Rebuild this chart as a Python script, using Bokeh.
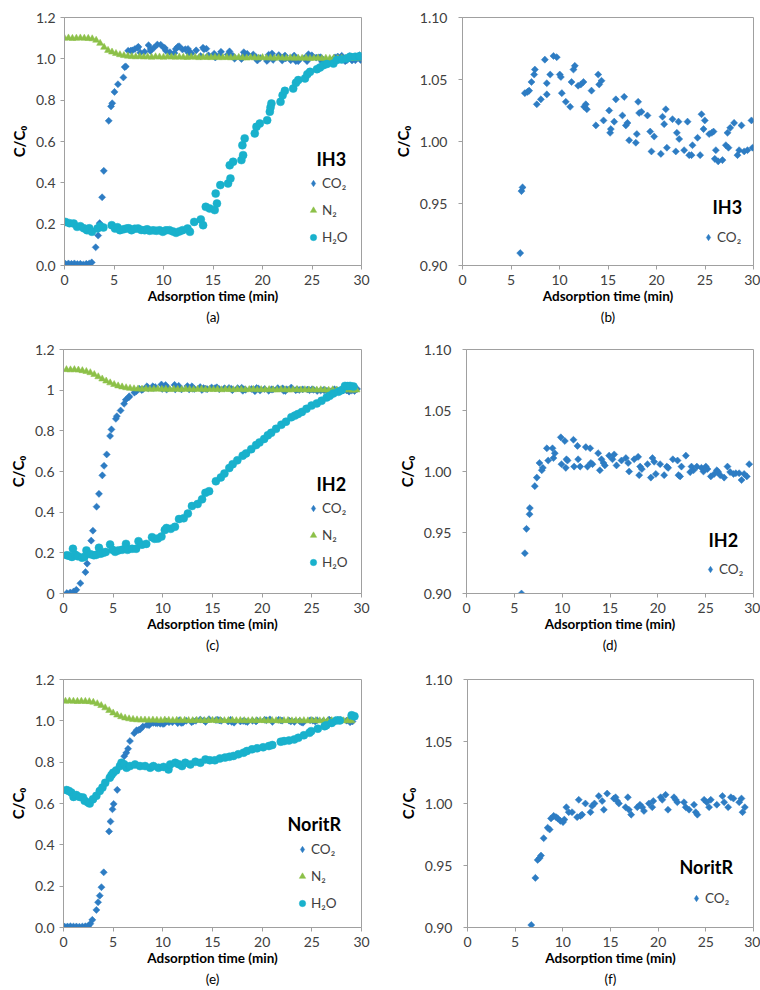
import numpy as np
from bokeh.plotting import figure
from bokeh.models import Range1d, Legend, LegendItem, Label, Title, FixedTicker, NumeralTickFormatter
from bokeh.layouts import column, row
from bokeh.embed import file_html
from bokeh.resources import INLINE

# ---------------- data ----------------
X_TICKS = [0, 5, 10, 15, 20, 25, 30]
Y_TICKS_FULL = [0, 0.2, 0.4, 0.6, 0.8, 1.0, 1.2]
Y_TICKS_ZOOM = [0.90, 0.95, 1.00, 1.05, 1.10]
SAMPLES = ["IH3", "IH2", "NoritR"]
LETTERS = ["(a)", "(b)", "(c)", "(d)", "(e)", "(f)"]

# ---- IH3 ----
IH3_CO2_T = [0.1, 0.4, 0.7, 1.0, 1.3, 1.6, 1.9, 2.2, 2.5, 2.75,
             3.15, 3.4, 3.55, 3.8, 3.97, 4.47, 4.7, 4.82, 5.05, 5.4,
             5.95, 6.08, 6.19, 6.43, 6.7, 6.87, 7.11, 7.39, 7.46, 7.66,
             8.08, 8.49, 8.69, 8.69, 9.04, 9.38, 9.72, 10.03, 10.14, 10.24,
             10.65, 11.1, 11.24, 11.44, 11.58, 11.92, 12.2, 12.47, 12.54, 12.71,
             12.82, 13.3, 13.75, 13.99, 14.09, 14.33, 14.54, 15.12, 15.22, 15.29,
             15.64, 15.81, 16.49, 16.67, 16.84, 17.01, 17.18, 17.87, 17.97, 18.11,
             18.21, 18.45, 19.07, 19.35, 19.48, 19.76, 20.45, 20.62, 20.79, 20.96,
             21.07, 21.65, 21.99, 22.1, 22.27, 22.34, 22.85, 23.2, 23.37, 23.61,
             23.71, 24.23, 24.5, 24.64, 24.85, 24.98, 25.43, 25.7, 25.88, 26.01,
             26.12, 26.36, 26.8, 27.15, 27.32, 27.42, 27.6, 28.0, 28.35, 28.52,
             28.76, 29.04, 29.38, 29.79, 29.9]
IH3_CO2_Y = [0.008, 0.010, 0.008, 0.010, 0.007, 0.008, 0.005, 0.008, 0.010, 0.015,
             0.088, 0.145, 0.205, 0.330, 0.458, 0.700, 0.770, 0.785, 0.840, 0.877,
             0.910, 0.960, 0.963, 1.039, 1.040, 1.041, 1.048, 1.054, 1.058, 1.030,
             1.034, 1.066, 1.047, 1.038, 1.054, 1.069, 1.068, 1.054, 1.052, 1.039,
             1.032, 1.028, 1.048, 1.058, 1.061, 1.045, 1.046, 1.048, 1.028, 1.030,
             1.026, 1.041, 1.013, 1.054, 1.046, 1.049, 1.017, 1.025, 1.007, 1.010,
             1.016, 1.034, 1.021, 1.036, 1.013, 1.015, 1.001, 0.999, 1.006, 1.032,
             1.023, 1.024, 1.021, 1.008, 0.992, 1.004, 0.990, 1.020, 1.014, 1.026,
             0.995, 1.018, 0.992, 1.007, 1.016, 1.002, 0.993, 1.016, 0.989, 0.989,
             0.997, 1.003, 0.989, 1.022, 1.010, 1.017, 1.006, 1.007, 1.008, 0.986,
             0.993, 0.984, 0.985, 0.997, 1.007, 0.995, 1.011, 1.015, 0.989, 0.993,
             1.013, 0.992, 0.993, 1.017, 0.995]
IH3_N2_T = [0.0, 0.4, 0.8, 1.2, 1.6, 2.0, 2.4, 2.8, 3.2, 3.6,
            4.0, 4.4, 4.8, 5.2, 5.6, 6.0, 6.4, 6.8, 7.2, 7.6,
            8.0, 8.4, 8.8, 9.2, 9.6, 10.0, 10.4, 10.8, 11.2, 11.6,
            12.0, 12.4, 12.8, 13.2, 13.6, 14.0, 14.4, 14.8, 15.2, 15.6,
            16.0, 16.4, 16.8, 17.2, 17.6, 18.0, 18.4, 18.8, 19.2, 19.6,
            20.0, 20.4, 20.8, 21.2, 21.6, 22.0, 22.4, 22.8, 23.2, 23.6,
            24.0, 24.4, 24.8, 25.2, 25.6, 26.0, 26.4, 26.8, 27.2, 27.6,
            28.0, 28.4, 28.8, 29.2, 29.6]
IH3_N2_Y = [1.100, 1.101, 1.099, 1.100, 1.101, 1.100, 1.099, 1.097, 1.090, 1.075,
            1.056, 1.041, 1.033, 1.026, 1.020, 1.016, 1.013, 1.011, 1.010, 1.011,
            1.009, 1.010, 1.008, 1.010, 1.009, 1.008, 1.010, 1.009, 1.008, 1.009,
            1.008, 1.007, 1.009, 1.008, 1.006, 1.008, 1.007, 1.006, 1.008, 1.006,
            1.006, 1.007, 1.005, 1.006, 1.007, 1.005, 1.004, 1.006, 1.005, 1.004,
            1.006, 1.004, 1.005, 1.003, 1.005, 1.004, 1.003, 1.005, 1.003, 1.004,
            1.003, 1.004, 1.002, 1.003, 1.004, 1.002, 1.003, 1.002, 1.003, 1.002,
            1.003, 1.002, 1.003, 1.002, 1.003]
IH3_H2O_T = [0.1, 0.5, 0.93, 1.27, 1.6, 1.95, 2.27, 2.5, 2.77, 3.33,
             3.6, 3.93, 4.77, 5.1, 5.35, 5.6, 5.95, 6.27, 6.5, 6.77,
             7.1, 7.43, 7.75, 8.1, 8.35, 8.6, 8.95, 9.27, 9.6, 9.93,
             10.25, 10.6, 10.95, 11.27, 11.6, 11.93, 12.43, 12.67, 13.1, 13.77,
             14.0, 14.27, 14.66, 15.17, 15.27, 15.4, 15.74, 16.52, 16.69, 16.76,
             17.03, 17.87, 17.97, 18.04, 18.2, 19.22, 19.39, 19.73, 20.47, 20.74,
             20.81, 20.9, 21.82, 22.03, 22.26, 23.1, 23.38, 23.61, 24.29, 24.53,
             24.8, 25.5, 25.81, 26.15, 26.5, 27.16, 27.5, 28.0, 28.51, 28.85,
             29.36, 29.8]
IH3_H2O_Y = [0.211, 0.205, 0.203, 0.187, 0.190, 0.180, 0.171, 0.180, 0.163, 0.179,
             0.190, 0.184, 0.195, 0.179, 0.185, 0.171, 0.175, 0.179, 0.180, 0.171,
             0.178, 0.179, 0.172, 0.171, 0.175, 0.168, 0.170, 0.168, 0.170, 0.163,
             0.170, 0.171, 0.165, 0.158, 0.165, 0.171, 0.179, 0.163, 0.211, 0.223,
             0.195, 0.284, 0.276, 0.268, 0.348, 0.300, 0.389, 0.397, 0.485, 0.421,
             0.502, 0.510, 0.582, 0.534, 0.615, 0.639, 0.671, 0.687, 0.703, 0.744,
             0.765, 0.784, 0.792, 0.824, 0.845, 0.856, 0.884, 0.897, 0.905, 0.926,
             0.937, 0.950, 0.958, 0.969, 0.975, 0.977, 0.994, 0.997, 1.002, 1.010,
             1.010, 1.013]

# ---- IH2 ----
IH2_CO2_T = [0.34, 0.68, 1.02, 1.29, 1.7, 2.21, 2.38, 2.79, 2.96, 3.33,
             3.57, 3.91, 4.08, 4.35, 4.69, 4.83, 5.27, 5.37,
             5.75, 6.10, 6.27, 6.59, 6.62, 7.14, 7.35, 7.63, 7.87, 7.98,
             8.4, 8.54, 8.99, 9.09, 9.23, 9.86, 9.93, 10.28, 10.38, 10.45,
             10.56, 11.18, 11.25, 11.6, 11.67, 11.88, 12.47, 12.65, 12.93, 13.0,
             13.17, 13.76, 13.94, 14.11, 14.32, 14.46, 14.91, 15.26, 15.44, 15.68,
             16.2, 16.66, 16.9, 17.0, 17.53, 17.94, 18.05, 18.15, 18.33, 18.92,
             19.27, 19.44, 19.62, 19.79, 20.24, 20.66, 20.94, 21.08, 21.57, 22.06,
             22.16, 22.33, 22.47, 22.93, 23.38, 23.52, 23.73, 24.08, 24.56, 24.77,
             25.02, 25.19, 25.54, 25.89, 26.17, 26.31, 26.52, 26.93, 27.28, 27.56,
             27.91, 28.15, 28.5, 28.75, 29.02, 29.3, 29.55]
IH2_CO2_Y = [0.002, 0.005, 0.010, 0.018, 0.050, 0.105, 0.147, 0.260, 0.309, 0.427,
             0.490, 0.581, 0.628, 0.684, 0.775, 0.807, 0.859, 0.872,
             0.900, 0.933, 0.953, 0.965, 0.970, 0.988, 0.995, 1.007, 1.001, 1.003,
             1.019, 1.009, 1.019, 1.011, 1.015, 1.028, 1.006, 1.025, 1.003, 1.010,
             1.009, 1.026, 1.004, 1.021, 1.010, 1.004, 1.020, 1.004, 1.019, 1.007,
             1.006, 1.015, 1.001, 1.010, 1.007, 1.005, 1.013, 1.010, 1.014, 1.005,
             1.009, 1.011, 1.007, 1.000, 1.010, 1.012, 0.997, 1.004, 1.002, 1.006,
             0.995, 1.011, 1.008, 0.998, 1.006, 0.997, 1.004, 1.003, 1.010, 1.009,
             0.997, 0.996, 1.004, 1.013, 0.9995, 1.004, 1.001, 1.004, 1.003, 1.000,
             1.004, 1.002, 0.996, 0.998, 1.001, 0.9995, 0.997, 0.995, 1.004, 0.9995,
             0.998, 0.9986, 0.9986, 0.993, 0.998, 0.996, 1.006]
IH2_N2_T = [0.3, 0.7, 1.1, 1.5, 1.9, 2.3, 2.7, 3.1, 3.5, 3.9,
            4.3, 4.7, 5.1, 5.5, 5.9, 6.3, 6.7, 7.1, 7.5, 7.9,
            8.3, 8.7, 9.1, 9.5, 9.9, 10.3, 10.7, 11.1, 11.5, 11.9,
            12.3, 12.7, 13.1, 13.5, 13.9, 14.3, 14.7, 15.1, 15.5, 15.9,
            16.3, 16.7, 17.1, 17.5, 17.9, 18.3, 18.7, 19.1, 19.5, 19.9,
            20.3, 20.7, 21.1, 21.5, 21.9, 22.3, 22.7, 23.1, 23.5, 23.9,
            24.3, 24.7, 25.1, 25.5, 25.9, 26.3, 26.7, 27.1, 27.5, 27.9,
            28.3, 28.7, 29.1, 29.5]
IH2_N2_Y = [1.101, 1.100, 1.101, 1.099, 1.096, 1.092, 1.086, 1.077, 1.066, 1.055,
            1.045, 1.036, 1.028, 1.021, 1.016, 1.012, 1.009, 1.007, 1.006, 1.005,
            1.006, 1.004, 1.005, 1.006, 1.004, 1.005, 1.003, 1.005, 1.004, 1.003,
            1.005, 1.004, 1.003, 1.004, 1.005, 1.003, 1.004, 1.003, 1.004, 1.002,
            1.004, 1.003, 1.002, 1.004, 1.003, 1.002, 1.003, 1.004, 1.002, 1.003,
            1.002, 1.003, 1.002, 1.001, 1.003, 1.002, 1.001, 1.002, 1.003, 1.001,
            1.002, 1.001, 1.002, 1.001, 1.002, 1.001, 1.000, 1.002, 1.001, 1.000,
            1.001, 1.002, 1.000, 1.001]
IH2_H2O_T = [0.34, 0.6, 0.85, 0.95, 1.2, 1.43, 1.87, 2.1, 2.31, 2.72,
             3.06, 3.3, 3.57, 3.74, 4.0, 4.25, 4.69, 4.93, 5.2, 5.51,
             5.9, 6.29, 6.46, 6.9, 7.31, 7.55, 7.9, 8.33, 8.91, 9.18,
             9.5, 9.86, 10.2, 10.37, 10.8, 11.22, 11.63, 12.1, 12.52, 12.93,
             13.5, 13.95, 14.29, 14.66, 15.34, 15.84, 16.2, 16.69, 17.03, 17.5,
             18.04, 18.38, 18.9, 19.39, 19.73, 20.2, 20.57, 20.91, 21.4, 21.93,
             22.4, 22.94, 23.3, 23.61, 24.0, 24.46, 24.97, 25.5, 25.98, 26.49,
             26.8, 27.16, 27.67, 28.0, 28.34, 28.6, 28.85, 29.19]
IH2_H2O_Y = [0.188, 0.185, 0.180, 0.220, 0.190, 0.183, 0.176, 0.180, 0.212, 0.193,
             0.188, 0.190, 0.225, 0.196, 0.200, 0.204, 0.241, 0.215, 0.205, 0.212,
             0.215, 0.244, 0.215, 0.220, 0.220, 0.257, 0.240, 0.244, 0.277, 0.269,
             0.270, 0.280, 0.312, 0.322, 0.318, 0.328, 0.366, 0.370, 0.393, 0.430,
             0.440, 0.463, 0.495, 0.503, 0.552, 0.571, 0.590, 0.617, 0.636, 0.655,
             0.678, 0.689, 0.710, 0.730, 0.743, 0.760, 0.778, 0.790, 0.810, 0.830,
             0.845, 0.867, 0.875, 0.883, 0.893, 0.908, 0.924, 0.935, 0.948, 0.964,
             0.972, 0.984, 0.992, 1.000, 1.021, 1.020, 1.021, 1.018]

# ---- NoritR ----
NOR_CO2_T = [0.1, 0.4, 0.7, 1.0, 1.3, 1.6, 1.9, 2.2, 2.5, 2.7,
             2.9, 3.31, 3.48, 3.65, 3.82, 4.05, 4.59, 4.73, 4.93, 5.05,
             5.41, 6.11, 6.32, 6.5,
             6.69, 7.12, 7.36, 7.57, 7.71, 7.99, 8.41, 8.62, 8.76, 9.04,
             9.29, 9.46, 9.74, 10.02, 10.16, 10.37, 10.62, 10.97, 11.5, 11.67,
             11.85, 12.02, 12.37, 12.9, 13.07, 13.32, 13.77, 14.13, 14.3, 14.65,
             15.35, 15.53, 15.7, 15.88, 16.58, 16.82, 16.93, 17.17, 17.81, 18.09,
             18.33, 18.51, 19.03, 19.38, 19.49, 20.26, 20.43, 20.78, 21.03, 21.66,
             21.84, 22.01, 22.71, 22.89, 23.24, 23.76, 23.94, 24.11, 24.82, 25.1,
             25.34, 25.52, 26.15, 26.74, 26.92, 27.34, 27.63, 27.9, 28.5, 28.74,
             28.85, 29.09]
NOR_CO2_Y = [0.005, 0.005, 0.006, 0.005, 0.005, 0.004, 0.005, 0.006, 0.008, 0.018,
             0.037, 0.085, 0.122, 0.154, 0.195, 0.267, 0.465, 0.513, 0.572, 0.598,
             0.666, 0.829, 0.845, 0.865,
             0.902, 0.940, 0.9545, 0.956, 0.958, 0.972, 0.9805, 0.979, 0.988, 0.990,
             0.989, 0.988, 0.986, 0.985, 0.987, 0.997, 0.993, 0.993, 0.989, 1.003,
             0.990, 0.991, 1.000, 0.993, 0.998, 1.000, 1.006, 1.002, 0.995, 1.008,
             1.004, 1.005, 1.002, 1.000, 0.997, 1.005, 0.995, 0.991, 0.997, 0.999,
             0.997, 0.994, 1.000, 0.997, 1.002, 1.005, 1.003, 1.007, 0.995, 1.005,
             1.003, 1.001, 1.001, 0.997, 0.995, 0.999, 0.993, 0.991, 1.003, 1.001,
             0.997, 1.003, 0.999, 1.006, 1.001, 0.997, 1.005, 1.004, 1.001, 1.004,
             0.993, 0.997]
NOR_N2_T = [0.2, 0.6, 1.0, 1.4, 1.8, 2.2, 2.6, 3.0, 3.4, 3.8,
            4.2, 4.6, 5.0, 5.4, 5.8, 6.2, 6.6, 7.0, 7.4, 7.8,
            8.2, 8.6, 9.0, 9.4, 9.8, 10.2, 10.6, 11.0, 11.4, 11.8,
            12.2, 12.6, 13.0, 13.4, 13.8, 14.2, 14.6, 15.0, 15.4, 15.8,
            16.2, 16.6, 17.0, 17.4, 17.8, 18.2, 18.6, 19.0, 19.4, 19.8,
            20.2, 20.6, 21.0, 21.4, 21.8, 22.2, 22.6, 23.0, 23.4, 23.8,
            24.2, 24.6, 25.0, 25.4, 25.8, 26.2, 26.6, 27.0, 27.4, 27.8,
            28.2, 28.6, 29.0]
NOR_N2_Y = [1.095, 1.096, 1.095, 1.094, 1.095, 1.094, 1.093, 1.090, 1.083, 1.074,
            1.063, 1.050, 1.038, 1.028, 1.020, 1.014, 1.010, 1.007, 1.005, 1.004,
            1.004, 1.003, 1.004, 1.003, 1.002, 1.004, 1.003, 1.002, 1.003, 1.002,
            1.003, 1.002, 1.001, 1.003, 1.002, 1.001, 1.002, 1.003, 1.001, 1.002,
            1.001, 1.002, 1.003, 1.001, 1.002, 1.001, 1.000, 1.002, 1.001, 1.002,
            1.001, 1.000, 1.002, 1.001, 1.000, 1.001, 1.002, 1.000, 1.001, 1.000,
            1.001, 1.000, 1.002, 1.001, 1.000, 1.001, 1.000, 1.001, 1.000, 1.001,
            1.000, 1.001, 1.000]
NOR_H2O_T = [0.3, 0.54, 0.78, 1.01, 1.28, 1.62, 1.96, 2.13, 2.47, 2.64,
             2.97, 3.31, 3.65, 3.92, 4.2, 4.66, 4.83, 5.0, 5.3, 5.68,
             5.84, 6.1, 6.35, 6.69, 7.2, 7.7, 8.21, 8.72, 9.05, 9.56,
             10.07, 10.57, 10.74, 11.25, 11.6, 11.93, 12.26, 12.77, 13.28, 13.78,
             14.29, 14.73, 15.24, 15.75, 16.26, 16.7, 17.11, 17.6, 18.13, 18.47,
             18.98, 19.49, 20.1, 20.68, 21.02, 21.87, 22.21, 22.7, 23.23, 23.64,
             24.2, 24.76, 24.93, 25.6, 26.29, 26.46, 27.0, 27.48, 27.82, 29.01,
             29.29]
NOR_H2O_Y = [0.665, 0.661, 0.653, 0.632, 0.641, 0.632, 0.629, 0.613, 0.605, 0.600,
             0.621, 0.637, 0.661, 0.677, 0.700, 0.725, 0.738, 0.749, 0.760, 0.781,
             0.797, 0.790, 0.773, 0.781, 0.789, 0.781, 0.781, 0.773, 0.781, 0.773,
             0.777, 0.765, 0.789, 0.797, 0.790, 0.781, 0.797, 0.789, 0.802, 0.797,
             0.813, 0.809, 0.809, 0.818, 0.822, 0.826, 0.830, 0.838, 0.846, 0.854,
             0.862, 0.867, 0.872, 0.878, 0.883, 0.899, 0.902, 0.905, 0.910, 0.918,
             0.930, 0.942, 0.950, 0.962, 0.974, 0.979, 0.990, 1.002, 1.002, 1.027,
             1.022]

# ---------------- styling ----------------
FONT = "Lato"
C_CO2 = "#2d7cc3"
C_N2 = "#8cc048"
C_H2O = "#19b1cc"
AXC = "#a0a0a0"
TXT = "#404040"


def make_panel(borders, yrange, yticks, yfmt, ylab_standoff, ytick_standoff,
               letter, letter_offset, sample, sample_xy, legend_xy, series):
    left, right, top, bottom = borders
    p = figure(width=380, height=330, output_backend="svg", toolbar_location=None,
               x_range=Range1d(0, 30), y_range=Range1d(*yrange),
               min_border_left=left, min_border_right=right,
               min_border_top=top, min_border_bottom=bottom,
               background_fill_color="white", border_fill_color="white")
    p.xgrid.visible = False
    p.ygrid.visible = False
    p.outline_line_color = AXC
    p.outline_line_width = 1

    p.xaxis.ticker = FixedTicker(ticks=X_TICKS)
    p.yaxis.ticker = FixedTicker(ticks=yticks)
    p.yaxis.formatter = NumeralTickFormatter(format=yfmt)
    for ax in (p.xaxis, p.yaxis):
        ax.axis_line_color = AXC
        ax.major_tick_line_color = AXC
        ax.major_tick_out = 4
        ax.major_tick_in = 0
        ax.minor_tick_line_color = None
        ax.major_label_text_font = FONT
        ax.major_label_text_font_size = "14px"
        ax.major_label_text_color = TXT
        ax.axis_label_text_font = FONT
        ax.axis_label_text_font_style = "bold"
        ax.axis_label_text_color = "black"
    p.xaxis.major_label_standoff = 5
    p.yaxis.major_label_standoff = ytick_standoff
    p.xaxis.axis_label = "Adsorption time (min)"
    p.xaxis.axis_label_text_font_size = "13.5px"
    p.xaxis.axis_label_standoff = 0
    p.yaxis.axis_label = "C/C\u2080"
    p.yaxis.axis_label_text_font_size = "15px"
    p.yaxis.axis_label_standoff = ylab_standoff

    items = []
    for name, t, y, kind in series:
        if kind == "co2":
            p.scatter(t, y, marker="square", size=5, angle=np.pi / 4,
                      fill_color=C_CO2, line_color=C_CO2, line_width=0.5)
            # hidden twin of the same series, used only for the legend key (diamond symbol)
            r = p.scatter(t, y, marker="diamond", size=8, visible=False,
                          fill_color=C_CO2, line_color=C_CO2, line_width=0.5)
        elif kind == "n2":
            r = p.scatter(t, y, marker="triangle", size=7,
                          fill_color=C_N2, line_color=C_N2, line_width=0.5)
        else:
            r = p.scatter(t, y, marker="circle", size=8,
                          fill_color=C_H2O, line_color=C_H2O, line_width=0.5)
        items.append(LegendItem(label=name, renderers=[r]))

    legend = Legend(items=items, location=legend_xy,
                    glyph_width=16, glyph_height=18, label_height=18,
                    label_standoff=1, spacing=9, padding=0, margin=0,
                    border_line_alpha=0, background_fill_alpha=0,
                    inactive_fill_alpha=0,
                    label_text_font=FONT, label_text_font_size="13.5px",
                    label_text_color=TXT)
    p.add_layout(legend)

    p.add_layout(Label(x=sample_xy[0], y=sample_xy[1], x_units="screen", y_units="screen",
                       text=sample, text_font=FONT, text_font_size="18px",
                       text_font_style="bold", text_color="black",
                       text_baseline="middle", text_align="left"))

    p.add_layout(Title(text=letter, align="center", offset=letter_offset, standoff=0,
                       text_font=FONT, text_font_size="13.5px", text_font_style="normal",
                       text_color="black"), "below")
    return p


pa = make_panel((64, 19, 17, 65), (0, 1.2), Y_TICKS_FULL, "0.0", 5, 5,
                LETTERS[0], -12, SAMPLES[0], (252, 107), (241, 19),
                [("CO\u2082", IH3_CO2_T, IH3_CO2_Y, "co2"),
                 ("N\u2082", IH3_N2_T, IH3_N2_Y, "n2"),
                 ("H\u2082O", IH3_H2O_T, IH3_H2O_Y, "h2o")])
pb = make_panel((82, 7, 17, 65), (0.9, 1.1), Y_TICKS_ZOOM, "0.00", 5, 11,
                LETTERS[1], -10, SAMPLES[0], (250, 59), (238, 19),
                [("CO\u2082", IH3_CO2_T, IH3_CO2_Y, "co2")])
pc = make_panel((63, 19, 19, 63), (0, 1.2), Y_TICKS_FULL, "0.[0]", 5, 5,
                LETTERS[2], -10, SAMPLES[1], (253, 110), (242, 22),
                [("CO\u2082", IH2_CO2_T, IH2_CO2_Y, "co2"),
                 ("N\u2082", IH2_N2_T, IH2_N2_Y, "n2"),
                 ("H\u2082O", IH2_H2O_T, IH2_H2O_Y, "h2o")])
pd_ = make_panel((86, 7, 19, 67), (0.9, 1.1), Y_TICKS_ZOOM, "0.00", 5, 11,
                 LETTERS[3], -2, SAMPLES[1], (242, 54), (236, 15),
                 [("CO\u2082", IH2_CO2_T, IH2_CO2_Y, "co2")])
pe = make_panel((63, 19, 19, 61), (0, 1.2), Y_TICKS_FULL, "0.0", 5, 5,
                LETTERS[4], -10, SAMPLES[2], (224, 104), (231, 15),
                [("CO\u2082", NOR_CO2_T, NOR_CO2_Y, "co2"),
                 ("N\u2082", NOR_N2_T, NOR_N2_Y, "n2"),
                 ("H\u2082O", NOR_H2O_T, NOR_H2O_Y, "h2o")])
pf = make_panel((87, 7, 18, 63), (0.9, 1.1), Y_TICKS_ZOOM, "0.00", 5, 11,
                LETTERS[5], -23, SAMPLES[2], (212, 61), (221, 20),
                [("CO\u2082", NOR_CO2_T, NOR_CO2_Y, "co2")])

layout = column(row(pa, pb), row(pc, pd_), row(pe, pf))
open("out.html", "w").write(file_html(layout, INLINE))
